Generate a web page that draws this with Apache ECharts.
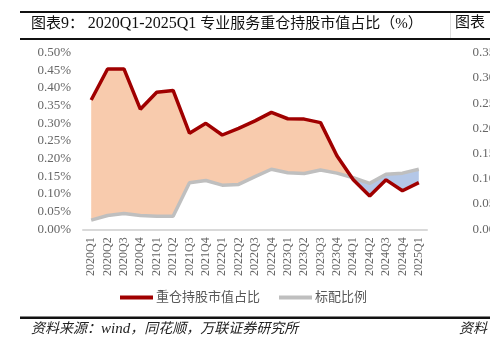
<!DOCTYPE html>
<html><head><meta charset="utf-8">
<script src="https://cdn.jsdelivr.net/npm/echarts@6/dist/echarts.min.js"></script>
<style>html,body{margin:0;padding:0;background:#fff}#c{width:490px;height:360px}</style>
</head><body><div id="c"></div>
<script>
const categories = ['2020Q1','2020Q2','2020Q3','2020Q4','2021Q1','2021Q2','2021Q3','2021Q4','2022Q1','2022Q2','2022Q3','2022Q4','2023Q1','2023Q2','2023Q3','2023Q4','2024Q1','2024Q2','2024Q3','2024Q4','2025Q1'];
const heavyShare = [0.366,0.454,0.454,0.340,0.388,0.393,0.272,0.300,0.267,0.286,0.307,0.331,0.313,0.312,0.302,0.208,0.140,0.094,0.140,0.109,0.132];
const standardShare = [0.026,0.039,0.045,0.039,0.037,0.037,0.132,0.138,0.125,0.127,0.149,0.170,0.160,0.158,0.168,0.159,0.146,0.130,0.156,0.159,0.170];
const yTicks = [0,0.05,0.10,0.15,0.20,0.25,0.30,0.35,0.40,0.45,0.50];
const rightTicks = [0,0.05,0.10,0.15,0.20,0.25,0.30,0.35];
const seriesNames = ['重仓持股市值占比','标配比例'];

const ORANGE = '#F8CBAD', BLUE = '#B4C7E7', RED = '#A00000', GREY = '#BFBFBF';
const SERIF = '"Liberation Serif","Noto Sans CJK SC",serif';
const CJK = '"Liberation Serif","Noto Sans CJK SC",sans-serif';

const diff = heavyShare.map((v,i)=>+(v-standardShare[i]).toFixed(4));
function fillGradient(){
  const n = categories.length, stops = [];
  let col = diff[0] >= 0 ? ORANGE : BLUE;
  stops.push({offset:0,color:col});
  for (let i=0;i<n-1;i++){
    if ((diff[i]>=0) !== (diff[i+1]>=0)){
      const t = diff[i]/(diff[i]-diff[i+1]);
      const f = (i+t)/(n-1);
      stops.push({offset:f,color:col});
      col = diff[i+1]>=0 ? ORANGE : BLUE;
      stops.push({offset:f,color:col});
    }
  }
  stops.push({offset:1,color:col});
  return new echarts.graphic.LinearGradient(0,0,1,0,stops);
}

const chart = echarts.init(document.getElementById('c'));
chart.setOption({
  animation:false,
  backgroundColor:'#fff',
  grid:[
    {left:83,right:63,top:52.7,bottom:130.7},
    {left:514,width:100,top:52.7,bottom:130.7}
  ],
  xAxis:[
    {type:'category',gridIndex:0,data:categories,boundaryGap:true,
     axisLine:{lineStyle:{color:'#D9D9D9',width:2}},axisTick:{show:false},
     axisLabel:{rotate:90,interval:0,margin:8,color:'#666',fontFamily:SERIF,fontSize:12}},
    {type:'category',gridIndex:1,data:categories,show:false}
  ],
  yAxis:[
    {type:'value',gridIndex:0,min:yTicks[0],max:yTicks[yTicks.length-1],interval:0.05,
     splitLine:{show:false},axisLine:{show:false},axisTick:{show:false},
     axisLabel:{margin:12,color:'#666',fontFamily:SERIF,fontSize:13,formatter:v=>v.toFixed(2)+'%'}},
    {type:'value',gridIndex:1,min:rightTicks[0],max:rightTicks[rightTicks.length-1],interval:0.05,
     splitLine:{show:false},axisLine:{show:false},axisTick:{show:false},
     axisLabel:{margin:8,color:'#666',fontFamily:SERIF,fontSize:13,formatter:v=>v.toFixed(2)+'%'}}
  ],
  legend:{
    data:seriesNames,left:115,top:286,icon:'rect',itemWidth:33,itemHeight:4,itemGap:19,
    textStyle:{color:'#595959',fontFamily:CJK,fontSize:13,padding:[0,0,0,-2]}
  },
  series:[
    {name:'base',type:'line',data:standardShare,stack:'band',stackStrategy:'all',
     symbol:'none',lineStyle:{opacity:0,width:0},silent:true,z:1},
    {name:'band',type:'line',data:diff,stack:'band',stackStrategy:'all',
     symbol:'none',lineStyle:{opacity:0,width:0},areaStyle:{color:fillGradient(),opacity:1},silent:true,z:1},
    {name:seriesNames[1],type:'line',data:standardShare,symbol:'none',
     lineStyle:{color:GREY,width:3.5},itemStyle:{color:GREY},z:3},
    {name:seriesNames[0],type:'line',data:heavyShare,symbol:'none',
     lineStyle:{color:RED,width:3.5},itemStyle:{color:RED},z:4}
  ],
  graphic:[
    {type:'rect',shape:{x:20,y:11,width:470,height:2},style:{fill:'#111'}},
    {type:'rect',shape:{x:20,y:38,width:470,height:2},style:{fill:'#111'}},
    {type:'rect',shape:{x:450,y:13,width:1,height:25},style:{fill:'#ddd'}},
    {type:'text',left:31,top:16,style:{
      text:'{c|图表}{l|9}{c|： }{l|2020Q1-2025Q1 }{c|专业服务重仓持股市值占比（%）}',
      rich:{c:{fontFamily:CJK,fontSize:15,fill:'#111'},l:{fontFamily:SERIF,fontSize:16,fill:'#111'}}}},
    {type:'text',left:455,top:16,style:{text:'图表',fontFamily:CJK,fontSize:15,fill:'#111'}},
    {type:'rect',shape:{x:20,y:316.5,width:470,height:2.5},style:{fill:'#111'}},
    {type:'text',left:31,top:322,style:{
      text:'{c|资料来源：}{l|wind}{c|，同花顺，万联证券研究所}',
      rich:{c:{fontFamily:CJK,fontSize:14,fontStyle:'italic',fill:'#222'},l:{fontFamily:SERIF,fontSize:15,fontStyle:'italic',fill:'#222'}}}},
    {type:'text',left:459,top:322,style:{text:'资料',fontFamily:CJK,fontSize:14,fontStyle:'italic',fill:'#222'}}
  ]
});
</script></body></html>
